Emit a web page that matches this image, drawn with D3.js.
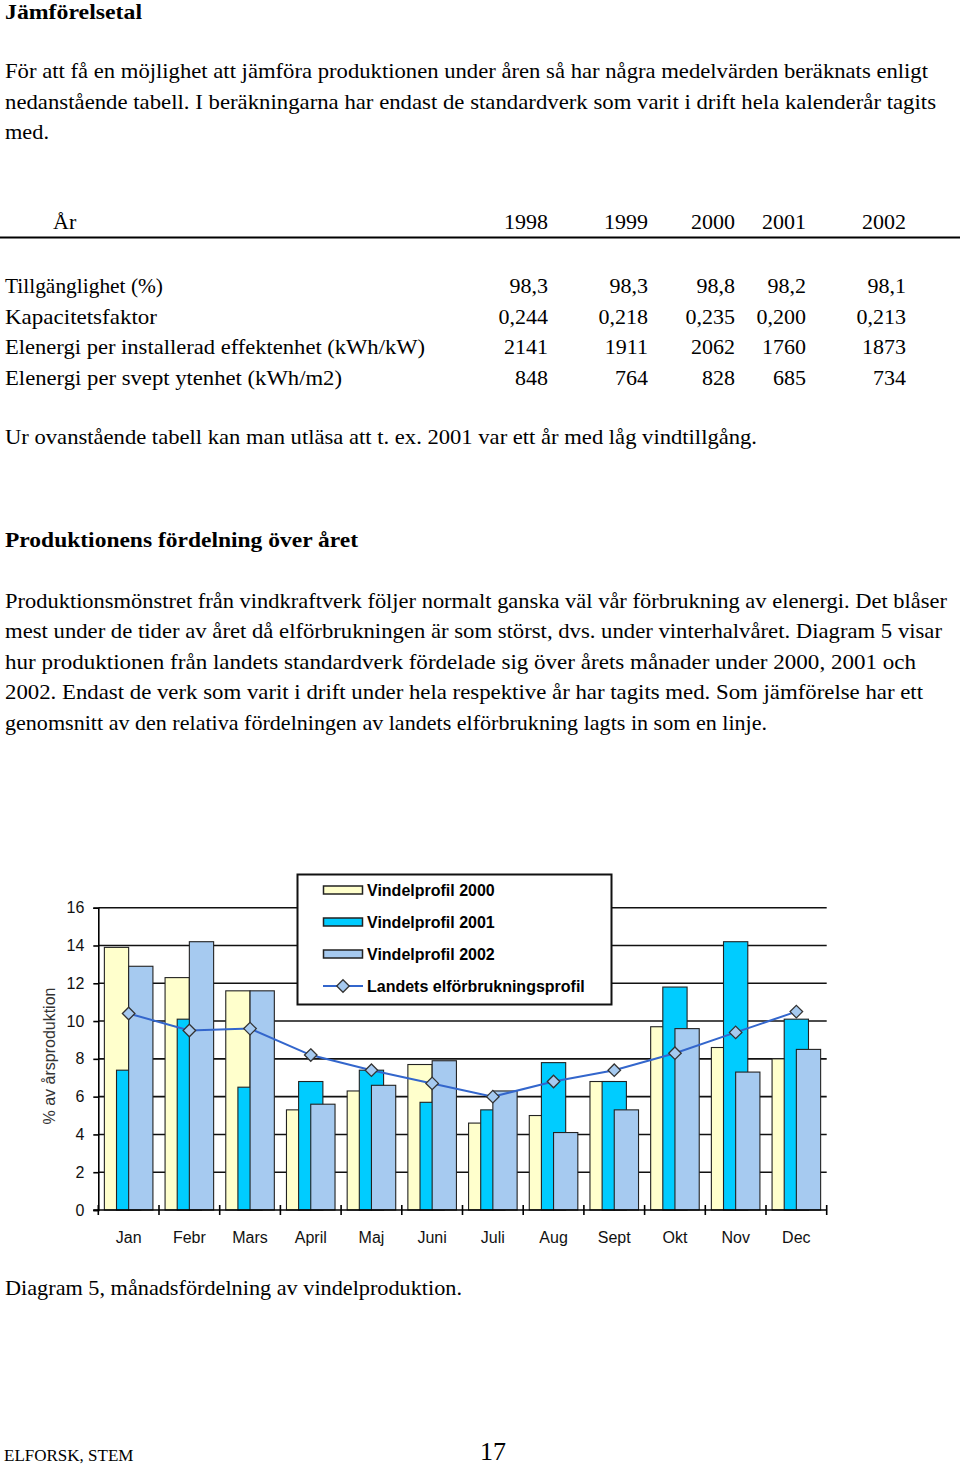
<!DOCTYPE html>
<html><head><meta charset="utf-8">
<script src="https://cdn.jsdelivr.net/npm/d3@7"></script>
<style>
html,body{margin:0;padding:0;background:#fff;}
svg{display:block;}
</style></head>
<body>
<svg id="page" width="960" height="1465"></svg>
<script>
// ---------- data ----------
const tableYears = ["1998","1999","2000","2001","2002"];
const tableRows = ["Tillgänglighet (%)","Kapacitetsfaktor","Elenergi per installerad effektenhet (kWh/kW)","Elenergi per svept ytenhet (kWh/m2)"];
const tillganglighet = ["98,3","98,3","98,8","98,2","98,1"];
const kapacitetsfaktor = ["0,244","0,218","0,235","0,200","0,213"];
const energiPerEffekt = ["2141","1911","2062","1760","1873"];
const energiPerYta = ["848","764","828","685","734"];

const months = ["Jan","Febr","Mars","April","Maj","Juni","Juli","Aug","Sept","Okt","Nov","Dec"];
const vind2000 = [13.9,12.3,11.6,5.3,6.3,7.7,4.6,5.0,6.8,9.7,8.6,8.0];
const vind2001 = [7.4,10.1,6.5,6.8,7.4,5.7,5.3,7.8,6.8,11.8,14.2,10.1];
const vind2002 = [12.9,14.2,11.6,5.6,6.6,7.9,6.3,4.1,5.3,9.6,7.3,8.5];
const elforbrukning = [10.4,9.5,9.6,8.2,7.4,6.7,6.0,6.8,7.4,8.3,9.4,10.5];
const yTicks = [0,2,4,6,8,10,12,14,16];
const seriesNames = ["Vindelprofil 2000","Vindelprofil 2001","Vindelprofil 2002"];
const lineName = "Landets elförbrukningsprofil";

// ---------- page text ----------
const svg = d3.select("#page");
svg.append("rect").attr("width",960).attr("height",1465).attr("fill","#fff");
const serif = "'Liberation Serif','Times New Roman',serif";
const sans = "'Liberation Sans',Arial,sans-serif";

function t(x,y,str,opts={}){
  const e = svg.append("text").attr("x",x).attr("y",y).text(str)
    .attr("font-family",opts.family||serif).attr("font-size",opts.size||22)
    .attr("fill","#000");
  if(opts.bold) e.attr("font-weight","bold");
  if(opts.anchor) e.attr("text-anchor",opts.anchor);
  if(opts.len) e.attr("textLength",opts.len).attr("lengthAdjust","spacingAndGlyphs");
  return e;
}

t(5,19,"Jämförelsetal",{bold:true,len:137});
const para1 = ["För att få en möjlighet att jämföra produktionen under åren så har några medelvärden beräknats enligt",
 "nedanstående tabell. I beräkningarna har endast de standardverk som varit i drift hela kalenderår tagits",
 "med."];
const para1End = [928,936,49];
para1.forEach((s,i)=>t(5,78+i*30.5,s,{len:para1End[i]-5}));

// table
const colRight = [548,648,735,806,906];
t(53,229,"År");
tableYears.forEach((y,i)=>t(colRight[i],229,y,{anchor:"end"}));
svg.append("line").attr("x1",0).attr("x2",960).attr("y1",237.5).attr("y2",237.5).attr("stroke","#000").attr("stroke-width",2);
const tableVals = [tillganglighet,kapacitetsfaktor,energiPerEffekt,energiPerYta];
const rowEnd = [163,157,425,342];
tableRows.forEach((r,ri)=>{
  const yy = 293+ri*30.5;
  t(5,yy,r,{len:rowEnd[ri]-5});
  tableVals[ri].forEach((v,ci)=>t(colRight[ci],yy,v,{anchor:"end"}));
});
t(5,444,"Ur ovanstående tabell kan man utläsa att t. ex. 2001 var ett år med låg vindtillgång.",{len:752});

t(5,547,"Produktionens fördelning över året",{bold:true,len:353});
const para2 = ["Produktionsmönstret från vindkraftverk följer normalt ganska väl vår förbrukning av elenergi. Det blåser",
 "mest under de tider av året då elförbrukningen är som störst, dvs. under vinterhalvåret. Diagram 5 visar",
 "hur produktionen från landets standardverk fördelade sig över årets månader under 2000, 2001 och",
 "2002. Endast de verk som varit i drift under hela respektive år har tagits med. Som jämförelse har ett",
 "genomsnitt av den relativa fördelningen av landets elförbrukning lagts in som en linje."];
const para2End = [947,942,916,923,767];
para2.forEach((s,i)=>t(5,608+i*30.4,s,{len:para2End[i]-5}));

t(5,1295,"Diagram 5, månadsfördelning av vindelproduktion.",{len:457});
t(4,1461,"ELFORSK, STEM",{size:17});
t(480,1460,"17",{size:26});

// ---------- chart ----------
const x = d3.scaleBand().domain(months).range([98.3,826.7]).paddingInner(0).paddingOuter(0);
const y = d3.scaleLinear().domain([0,16]).range([1210,907.7]);
const g = svg.append("g");

// gridlines
g.append("g").selectAll("line").data(yTicks.filter(d=>d>0)).join("line")
  .attr("x1",x.range()[0]).attr("x2",x.range()[1])
  .attr("y1",d=>y(d)).attr("y2",d=>y(d))
  .attr("stroke","#111").attr("stroke-width",1.6);

// bars
const colors = ["#ffffcc","#00ccff","#a6caf0"];
const seriesData = [vind2000,vind2001,vind2002];
const bw = x.bandwidth();
seriesData.forEach((vals,si)=>{
  g.append("g").selectAll("rect").data(vals).join("rect")
    .attr("x",(d,i)=>x(months[i])+bw*0.1+si*bw*0.2)
    .attr("width",bw*0.4)
    .attr("y",d=>y(d))
    .attr("height",d=>y(0)-y(d))
    .attr("fill",colors[si]).attr("stroke","#222").attr("stroke-width",1.1);
});

// axes
const yAxis = d3.axisLeft(y).tickValues(yTicks).tickSize(5).tickPadding(9).tickFormat(d3.format("d"));
const ya = g.append("g").attr("transform",`translate(${x.range()[0]},0)`).call(yAxis);
ya.select(".domain").attr("stroke","#000").attr("stroke-width",1.6);
ya.selectAll(".tick line").attr("stroke","#000").attr("stroke-width",1.6);
ya.selectAll("text").attr("font-family",sans).attr("font-size",16).attr("fill","#111");

const xa = g.append("g").attr("transform",`translate(0,${y(0)})`);
xa.append("line").attr("x1",x.range()[0]-5).attr("x2",x.range()[1]).attr("stroke","#000").attr("stroke-width",1.6);
const bounds = months.map(m=>x(m)).concat([x.range()[1]]);
xa.selectAll("line.tk").data(bounds).join("line").attr("class","tk")
  .attr("x1",d=>d).attr("x2",d=>d).attr("y1",-5).attr("y2",5)
  .attr("stroke","#000").attr("stroke-width",1.6);
xa.selectAll("text").data(months).join("text")
  .attr("x",d=>x(d)+bw/2).attr("y",33).attr("text-anchor","middle")
  .attr("font-family",sans).attr("font-size",16).attr("fill","#111").text(d=>d);

// y label
svg.append("text").attr("transform","translate(55,1056) rotate(-90)")
  .attr("text-anchor","middle").attr("font-family",sans).attr("font-size",16)
  .attr("fill","#333").text("% av årsproduktion");

// line
const lineGen = d3.line().x((d,i)=>x(months[i])+bw/2).y(d=>y(d));
g.append("path").datum(elforbrukning).attr("d",lineGen).attr("fill","none")
  .attr("stroke","#3366cc").attr("stroke-width",2);
const diamond = d3.symbol().type(d3.symbolDiamond2).size(100);
g.append("g").selectAll("path").data(elforbrukning).join("path")
  .attr("d",diamond)
  .attr("transform",(d,i)=>`translate(${x(months[i])+bw/2},${y(d)})`)
  .attr("fill","#a6caf0").attr("stroke","#333").attr("stroke-width",1.3);

// legend
const lg = svg.append("g");
lg.append("rect").attr("x",297.5).attr("y",874.5).attr("width",314).attr("height",130)
  .attr("fill","#fff").attr("stroke","#111").attr("stroke-width",2);
const legY = [890,922,954,986];
seriesNames.forEach((n,i)=>{
  lg.append("rect").attr("x",323.5).attr("y",legY[i]-4).attr("width",39).attr("height",8)
    .attr("fill",colors[i]).attr("stroke","#222").attr("stroke-width",1.5);
  lg.append("text").attr("x",367).attr("y",legY[i]+5.5).attr("font-family",sans)
    .attr("font-size",16).attr("font-weight","bold").attr("fill","#000").text(n);
});
lg.append("line").attr("x1",323).attr("x2",363).attr("y1",legY[3]).attr("y2",legY[3])
  .attr("stroke","#3366cc").attr("stroke-width",2);
lg.append("path").attr("d",diamond).attr("transform",`translate(343,${legY[3]})`)
  .attr("fill","#a6caf0").attr("stroke","#333").attr("stroke-width",1.3);
lg.append("text").attr("x",367).attr("y",legY[3]+5.5).attr("font-family",sans)
  .attr("font-size",16).attr("font-weight","bold").attr("fill","#000").text(lineName);
</script>
</body></html>
